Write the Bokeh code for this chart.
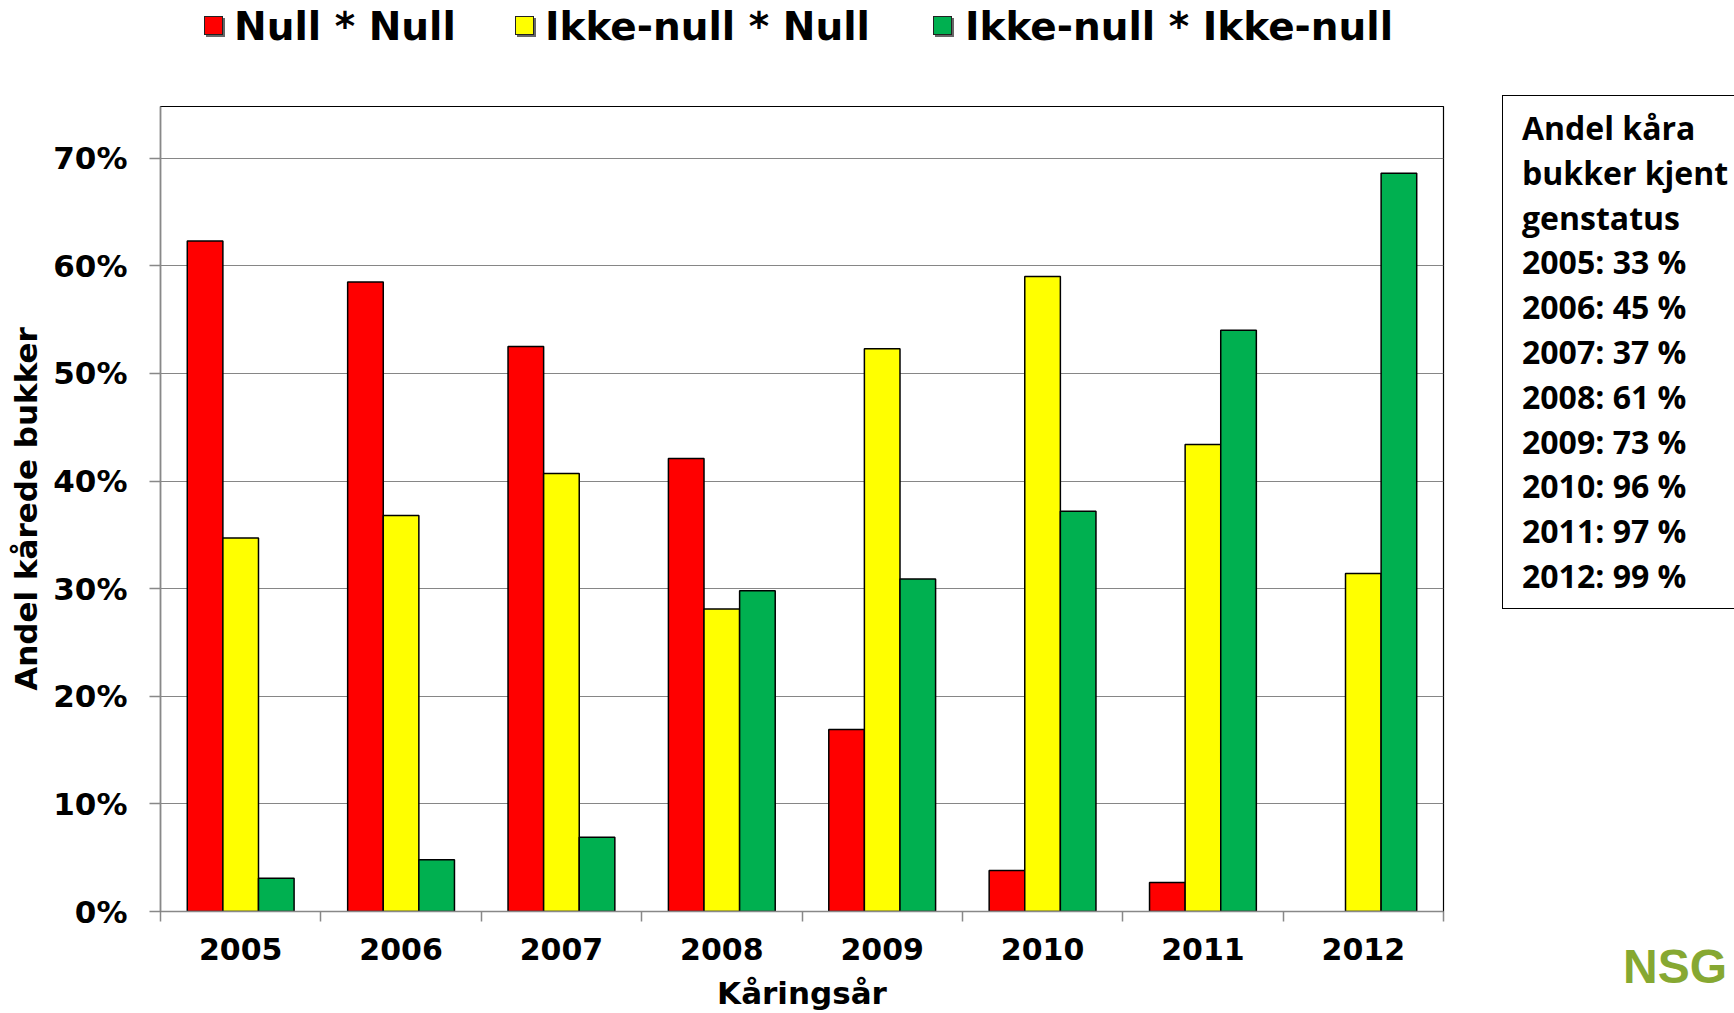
from bokeh.plotting import figure
from bokeh.layouts import row, column
from bokeh.models import (Range1d, FixedTicker, NumeralTickFormatter,
                          ColumnDataSource, CustomJSTickFormatter, Div)
from bokeh.embed import file_html
from bokeh.resources import INLINE

# ---- data ----
years = ["2005", "2006", "2007", "2008", "2009", "2010", "2011", "2012"]
null_null = [62.3, 58.5, 52.5, 42.1, 16.9, 3.8, 2.7, 0.0]
ikke_null_null = [34.7, 36.8, 40.7, 28.1, 52.3, 59.0, 43.4, 31.4]
ikke_null_ikke_null = [3.1, 4.8, 6.9, 29.8, 30.9, 37.2, 54.0, 68.6]
series_names = ["Null * Null", "Ikke-null * Null", "Ikke-null * Ikke-null"]
series_colors = ["#FF0000", "#FFFF00", "#00B050"]
y_tick_values = [0, 10, 20, 30, 40, 50, 60, 70]
box_title = ["Andel kåra", "bukker kjent", "genstatus"]
status_pct = [33, 45, 37, 61, 73, 96, 97, 99]

series = [null_null, ikke_null_null, ikke_null_ikke_null]

LEG_H = 54

p = figure(width=1495, height=1013 - LEG_H, output_backend="svg", toolbar_location=None,
           x_range=Range1d(-0.5, len(years) - 0.5), y_range=Range1d(0, 0.748),
           min_border_left=160, min_border_right=52, min_border_top=106 - LEG_H,
           min_border_bottom=101)
p.background_fill_color = "white"
p.border_fill_color = "white"
p.outline_line_color = "black"
p.outline_line_width = 1.2

bar_w = 0.222
for k, vals in enumerate(series):
    idx = [i for i, v in enumerate(vals) if v > 0]
    src = ColumnDataSource(dict(
        x=[i + (k - 1) * bar_w for i in idx],
        top=[vals[i] / 100 for i in idx],
    ))
    p.vbar(x="x", top="top", bottom=0, width=bar_w, source=src,
           fill_color=series_colors[k], line_color="black", line_width=1.5)

# grid
p.xgrid.visible = False
p.ygrid.ticker = FixedTicker(ticks=[t / 100 for t in y_tick_values])
p.ygrid.grid_line_color = "#868686"
p.ygrid.grid_line_width = 1.2

gray = "#888888"
# x axis
xa = p.xaxis[0]
xa.ticker = FixedTicker(ticks=list(range(len(years))),
                        minor_ticks=[i - 0.5 for i in range(len(years) + 1)])
xa.formatter = CustomJSTickFormatter(args=dict(years=years),
                                     code="return years[Math.round(tick)] || '';")
xa.major_tick_line_color = None
xa.major_tick_out = 10
xa.major_tick_in = 0
xa.minor_tick_line_color = gray
xa.minor_tick_line_width = 1.5
xa.minor_tick_out = 10
xa.minor_tick_in = 0
xa.axis_line_color = gray
xa.axis_line_width = 1.5
xa.major_label_text_font = "DejaVu Sans"
xa.major_label_text_font_style = "bold"
xa.major_label_text_font_size = "30px"
xa.major_label_text_color = "black"
xa.major_label_standoff = 16
xa.axis_label = "Kåringsår"
xa.axis_label_text_font = "DejaVu Sans"
xa.axis_label_text_font_style = "bold"
xa.axis_label_text_font_size = "31px"
xa.axis_label_text_color = "black"
xa.axis_label_standoff = 12

# y axis
ya = p.yaxis[0]
ya.ticker = FixedTicker(ticks=[t / 100 for t in y_tick_values])
ya.formatter = NumeralTickFormatter(format="0%")
ya.minor_tick_line_color = None
ya.major_tick_line_color = gray
ya.major_tick_line_width = 1.5
ya.major_tick_out = 11
ya.major_tick_in = 0
ya.axis_line_color = gray
ya.axis_line_width = 1.5
ya.major_label_text_font = "DejaVu Sans"
ya.major_label_text_font_style = "bold"
ya.major_label_text_font_size = "31px"
ya.major_label_text_color = "black"
ya.major_label_standoff = 22
ya.axis_label = "Andel kårede bukker"
ya.axis_label_text_font = "DejaVu Sans"
ya.axis_label_text_font_style = "bold"
ya.axis_label_text_font_size = "31px"
ya.axis_label_text_color = "black"
ya.axis_label_standoff = 6

# legend across the top (HTML)
sq_left = [204, 515, 933]
tx_left = [234, 545, 965]
leg_parts = []
for name, col, sl, tl in zip(series_names, series_colors, sq_left, tx_left):
    leg_parts.append(
        f'<span style="position:absolute;left:{sl}px;top:16px;width:19px;height:19px;'
        f'background:{col};border:1px solid #222;box-shadow:2px 2px 0 #666;"></span>'
        f'<span style="position:absolute;left:{tl}px;top:0px;line-height:{LEG_H}px;">{name}</span>'
    )
legend_html = (
    f'<div style="position:relative;width:1734px;height:{LEG_H}px;white-space:nowrap;'
    "font-family:'DejaVu Sans';font-weight:bold;font-size:39px;color:black;\">"
    + "".join(leg_parts) + "</div>"
)
legend_div = Div(text=legend_html, width=1734, height=LEG_H,
                 styles={"overflow": "hidden", "margin": "0", "padding": "0"})

# text box on the right + logo text
box_lines = box_title + [f"{y}: {v} %" for y, v in zip(years, status_pct)]
box_html = (
    f'<div style="margin-left:7px;margin-top:{95 - LEG_H}px;width:300px;height:514px;'
    'box-sizing:border-box;border:1.5px solid black;padding:10px 0 0 19px;'
    "font-family:'Open Sans';font-weight:bold;font-size:32px;line-height:44.8px;"
    'color:black;white-space:nowrap;background:white;">'
    + "<br>".join(box_lines) + "</div>"
    '<div style="margin-left:128px;margin-top:333px;'
    "font-family:'Liberation Sans';font-weight:bold;font-size:48px;line-height:50px;"
    'color:#86A832;white-space:nowrap;">NSG</div>'
)
side = Div(text=box_html, width=239, height=1013 - LEG_H,
           styles={"overflow": "hidden", "margin": "0", "padding": "0"})

layout = column(legend_div, row(p, side, spacing=0), spacing=0)
open("out.html", "w").write(file_html(layout, INLINE))
